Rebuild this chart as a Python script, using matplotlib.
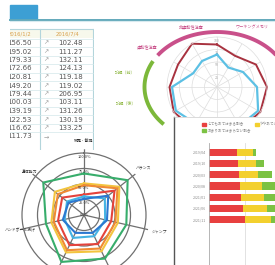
import numpy as np
import matplotlib.pyplot as plt
from matplotlib.patches import Rectangle, Patch

plt.rcParams['font.family'] = ['Noto Sans CJK JP', 'DejaVu Sans']

W, H = 275, 265

# table (top left)
table_head = ["2016/1/2", "2016/7/4"]
col_prev = ["156.50", "195.02", "179.33", "172.66", "120.81", "149.20",
            "179.44", "100.03", "139.19", "122.53", "116.62", "111.73"]
col_trend = ["↗"] * 11 + ["→"]
col_now = ["102.48", "111.27", "132.11", "124.13", "119.18", "119.02",
           "206.95", "103.11", "131.26", "130.19", "133.25", ""]

# attention radar (top right), 12 spokes clockwise from top
att_red = [0.85, 0.72, 0.9, 1.0, 1.0, 0.95, 0.9, 0.95, 1.0, 0.95, 0.9, 1.0]
att_blue = [0.65, 0.45, 0.6, 0.8, 0.95, 0.9, 0.8, 0.85, 0.95, 0.9, 0.55, 0.6]
att_labels = ["非運動性注意", "ワーキングメモリ", "運動性注意", "読解（前）", "読解（後）"]
att_ticks = [0.25, 0.5, 0.75, 1.0]
att_ticklabels = ["25", "50", "75", "100"]

# fitness radar (bottom left), 7 spokes clockwise from top
# (the two bottom spoke labels fall outside the picture)
fit_axes = ["跳躍・敏捷", "バランス", "ジャンプ", "", "", "ハンドボール投げ", "身体能力"]
fit_ticks = [0, 0.25, 0.5, 0.75, 1.0]
fit_ticklabels = ["0.0%", "25.0%", "50.0%", "75.0%", "100.0%"]
fit_green = [0.67, 0.9, 0.7, 0.78, 0.84, 0.63, 0.84]
fit_yellow = [0.51, 0.73, 0.56, 0.65, 0.67, 0.54, 0.6]
fit_orange = [0.48, 0.69, 0.52, 0.6, 0.63, 0.5, 0.54]
fit_red = [0.33, 0.63, 0.45, 0.52, 0.54, 0.43, 0.45]
fit_cyan = [0.3, 0.43, 0.35, 0.38, 0.41, 0.32, 0.35]
fit_blue = [0.26, 0.5, 0.38, 0.32, 0.32, 0.35, 0.32]

# survey bars (bottom right), percent
bar_periods = ["2019/04", "2019/10", "2020/03", "2020/08", "2021/01", "2021/06", "2021/11"]
bar_red = [19.5, 20, 21, 21.5, 22.5, 23.5, 25]
bar_yellow = [11, 12.5, 13, 15, 15.5, 17, 18]
bar_green = [2, 6, 10, 12, 13, 14, 15]
bar_names = ["とてもあてはまる割合", "ややあてはまる割合", "あまりあてはまらない割合"]

fig = plt.figure(figsize=(W / 100, H / 100), dpi=100)


def px_axes(x0, y0, x1, y1, **kw):
    return fig.add_axes([x0 / W, 1 - y1 / H, (x1 - x0) / W, (y1 - y0) / H], **kw)


# header strip
bg = fig.add_axes([0, 0, 1, 1])
bg.set_xlim(0, W)
bg.set_ylim(H, 0)
bg.axis('off')
bg.add_patch(Rectangle((10, 5), 27, 14, color='#3d9fd4'))
bg.plot([10, W], [19.6, 19.6], color='#62a9bb', lw=1.4)
bg.plot([10, W], [21.4, 21.4], color='#d8eaef', lw=0.8)

# table
tb = px_axes(10, 26, 94, 150)
tb.set_xlim(10, 94)
tb.set_ylim(150, 26)
tb.axis('off')
line_c = '#b3d5db'
tb.add_patch(Rectangle((10, 28.5), 83, 9.5, color='#f7f8ec', lw=0))
tb.plot([10, 93], [28.5, 28.5], color=line_c, lw=0.8)
tb.plot([93, 93], [28.5, 150], color=line_c, lw=0.8)
tb.plot([40, 40], [28.5, 150], color=line_c, lw=0.8)
tb.text(31, 33.5, table_head[0], ha='right', va='center', fontsize=3.8,
        color='#d9a04a', family=['DejaVu Sans'], clip_on=True)
tb.text(68, 33.5, table_head[1], ha='center', va='center', fontsize=3.8,
        color='#d9a04a', family=['DejaVu Sans'], clip_on=True)
for i in range(len(col_prev)):
    y = 43 + 8.5 * i
    tb.plot([10, 93], [y - 4.5, y - 4.5], color='#d3e7ea', lw=0.5)
    tb.text(32, y, col_prev[i], ha='right', va='center', fontsize=5,
            color='#555555', family=['DejaVu Sans'], clip_on=True)
    tb.text(46, y, col_trend[i], ha='center', va='center', fontsize=4.5,
            color='#999999', family=['DejaVu Sans'], clip_on=True)
    tb.text(83, y, col_now[i], ha='right', va='center', fontsize=5,
            color='#555555', family=['DejaVu Sans'], clip_on=True)

# attention radar
ax1 = px_axes(167, 37, 267, 137, projection='polar')
ax1.set_theta_offset(np.pi / 2)
ax1.set_theta_direction(-1)
ang1 = np.linspace(0, 2 * np.pi, len(att_red), endpoint=False)
ax1.set_ylim(0, 1.0)
ax1.set_thetagrids(np.degrees(ang1), labels=[])
ax1.set_rgrids(att_ticks[:-1], labels=[])
ax1.grid(color='#dddddd', lw=0.5)
ax1.spines['polar'].set_color('#dddddd')
ax1.spines['polar'].set_linewidth(0.5)
closed1 = np.append(ang1, ang1[0])
ax1.plot(closed1, att_red + att_red[:1], color='#a8323f', lw=1.4, clip_on=False)
ax1.plot(closed1, att_blue + att_blue[:1], color='#5cc0e4', lw=1.6, clip_on=False)
for v, lab in zip(att_ticks, att_ticklabels):
    ax1.text(0, v - 0.03, lab, ha='center', va='top', fontsize=2.6, color='#aaaaaa')


def ellipse_r(t, a=1.45, b=1.1):
    return a * b / np.sqrt((b * np.sin(t)) ** 2 + (a * np.cos(t)) ** 2)


t_pink = np.radians(np.linspace(-62, 75, 120))
t_green = np.radians(np.linspace(-125, -68, 60))
ax1.plot(t_pink, ellipse_r(t_pink), color='#c9508a', lw=2.8, clip_on=False,
         solid_capstyle='butt')
ax1.plot(t_green, ellipse_r(t_green), color='#7cb83a', lw=2.8, clip_on=False,
         solid_capstyle='butt')
label_pos = [(-23, 1.3), (30, 1.38), (-60, 1.62), (-81, 1.85), (-100, 1.85)]
label_col = ['#c9508a', '#c9508a', '#c9508a', '#8ab43a', '#8ab43a']
for lab, (t, r), c in zip(att_labels, label_pos, label_col):
    ax1.text(np.radians(t), r, lab, ha='center', va='center', fontsize=3, color=c)

# fitness radar: centre (84, 215), r=1 -> 62 px
R2 = 62 * 1.06
ax2 = px_axes(84 - R2, 215 - R2, 84 + R2, 215 + R2, projection='polar')
ax2.set_theta_offset(np.pi / 2)
ax2.set_theta_direction(-1)
ang2 = np.linspace(0, 2 * np.pi, len(fit_axes), endpoint=False)
ax2.set_ylim(0, 1.06)
ax2.set_thetagrids(np.degrees(ang2), labels=[])
ax2.set_rgrids(fit_ticks[1:], labels=[])
ax2.grid(color='#707070', lw=0.9)
ax2.spines['polar'].set_visible(False)
closed2 = np.append(ang2, ang2[0])
for vals, c in [(fit_green, '#37ad6b'), (fit_yellow, '#f3c43e'),
                (fit_orange, '#f08a33'), (fit_red, '#e4433c'),
                (fit_cyan, '#45b3e3'), (fit_blue, '#2b78d0')]:
    ax2.plot(closed2, vals + vals[:1], color=c, lw=1.5)
for v, lab in zip(fit_ticks, fit_ticklabels):
    ax2.text(0, max(v - 0.03, 0), lab, ha='center',
             va='top' if v > 0 else 'center', fontsize=2.8, color='#333333')
label_r = [1.2, 1.22, 1.24, 1.2, 1.2, 1.05, 1.12]
for a, lab, r in zip(ang2, fit_axes, label_r):
    if lab:
        ax2.text(a, r, lab, ha='center', va='center', fontsize=2.8, color='#333333')

# survey panel
pn = px_axes(174, 117, 285, 270)
pn.set_xticks([])
pn.set_yticks([])
for s in ['right', 'bottom']:
    pn.spines[s].set_visible(False)
pn.spines['left'].set_color('#555555')
pn.spines['left'].set_linewidth(1.0)
pn.spines['top'].set_color('#cccccc')
pn.spines['top'].set_linewidth(0.5)

ax3 = px_axes(209, 143, 353, 268)
ax3.set_facecolor('none')
y = np.arange(len(bar_periods))
left_y = np.array(bar_red) + np.array(bar_yellow)
ax3.barh(y, bar_red, height=0.64, color='#e8403f')
ax3.barh(y, bar_yellow, left=bar_red, height=0.64, color='#f3d02f')
ax3.barh(y, bar_green, left=left_y, height=0.64, color='#7cc243')
ax3.set_xlim(0, 100)
ax3.set_ylim(10.3, -0.82)
ax3.set_yticks(y)
ax3.set_yticklabels(bar_periods)
ax3.set_xticks([25, 50, 75])
ax3.tick_params(axis='y', length=0, labelsize=2.6, labelcolor='#888888', pad=2)
ax3.tick_params(axis='x', length=0, labelbottom=False)
ax3.grid(axis='x', color='#dddddd', lw=0.6)
ax3.set_axisbelow(True)
for s in ['top', 'right', 'bottom']:
    ax3.spines[s].set_visible(False)
ax3.spines['left'].set_color('#aaaaaa')
ax3.spines['left'].set_linewidth(0.6)
handles = [Patch(color='#e8403f', label=bar_names[0]),
           Patch(color='#7cc243', label=bar_names[2]),
           Patch(color='#f3d02f', label=bar_names[1])]
ax3.legend(handles=handles, ncol=2, loc='upper left',
           bbox_to_anchor=(199 / W, 1 - 119 / H), bbox_transform=fig.transFigure,
           fontsize=2.6, frameon=False, handlelength=1.0, handleheight=1.0,
           columnspacing=1.2, labelspacing=0.6, handletextpad=0.4,
           labelcolor='#888888')

fig.savefig('out.png', dpi=100)
